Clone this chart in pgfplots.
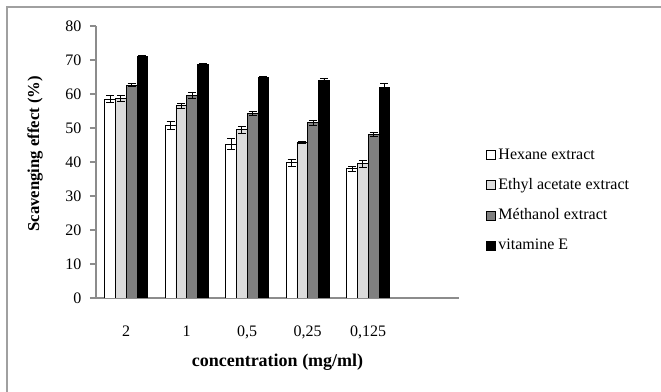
\documentclass[border=0pt]{standalone}
\usepackage{fontspec}
\setmainfont{Liberation Serif}
\usepackage{pgfplots}
\usepackage{pgfplotstable}
\pgfplotsset{compat=1.18}
\definecolor{lgray}{HTML}{DCDCDC}
\definecolor{mgray}{HTML}{808080}
\definecolor{axgray}{HTML}{8C8C8C}
\definecolor{framegray}{HTML}{A0A0A0}

\pgfplotstableread{
x y e
1 58.5 1.0
2 50.7 1.2
3 45.3 1.5
4 39.8 1.0
5 38.0 0.7
}\hexane
\pgfplotstableread{
x y e
1 58.7 1.0
2 56.6 0.7
3 49.5 1.0
4 45.8 0.4
5 39.5 1.0
}\ethyl
\pgfplotstableread{
x y e
1 62.6 0.5
2 59.6 1.0
3 54.3 0.6
4 51.6 0.7
5 48.0 0.6
}\methanol
\pgfplotstableread{
x y e
1 71.0 0.4
2 68.6 0.5
3 64.8 0.4
4 64.0 0.5
5 62.0 1.0
}\vitE

\begin{document}
\begin{tikzpicture}
\path[use as bounding box] (0,0) rectangle (495.75pt,294pt);
\draw[framegray, line width=1.2pt] (5.25pt,0) -- (5.25pt,288.75pt) -- (495.75pt,288.75pt);
\begin{axis}[
  at={(72pt,70.5pt)}, anchor=origin,
  scale only axis,
  width=272.25pt, height=204pt,
  xmin=0.5, xmax=6.5, ymin=0, ymax=80,
  axis lines*=left,
  axis line style={axgray, line width=0.8pt},
  ybar=0pt, bar width=8.1pt,
  xtick={1,2,3,4,5},
  xticklabels={2,1,{0,5},{0,25},{0,125}},
  xtick style={draw=none},
  minor xtick={0.5,1.5,2.5,3.5,4.5,5.5,6.5},
  minor x tick style={axgray, line width=0.8pt},
  minor tick length=4.5pt,
  ytick={0,10,...,80},
  y tick style={axgray, line width=0.8pt},
  major tick length=4.5pt,
  tick align=outside,
  /pgf/number format/assume math mode=true,
  tick label style={font=\fontsize{12}{14}\selectfont},
  xticklabel style={yshift=-13pt},
  yticklabel style={xshift=-3pt},
  xlabel={\textbf{concentration (mg/ml)}},
  ylabel={\textbf{Scavenging effect (\%)}},
  xlabel style={at={(axis description cs:0.5,-0.235)}, anchor=center, font=\fontsize{13.5}{15}\selectfont},
  ylabel style={at={(axis description cs:-0.168,0.53)}, anchor=center, font=\fontsize{12.5}{14}\selectfont},
  legend style={at={(axis description cs:1.074,0.56)}, anchor=north west, draw=none, fill=none,
    font=\fontsize{12}{14}\selectfont, row sep=9pt, inner sep=0pt, legend cell align=left},
  legend image code/.code={\draw[#1, draw=black, line width=0.5pt] (0pt,-3.4pt) rectangle (6.75pt,3.4pt);},
  every axis plot/.append style={draw=black, line width=0.6pt},
  error bars/y dir=both, error bars/y explicit,
  error bars/error bar style={black, line width=0.6pt},
  error bars/error mark options={rotate=90, mark size=3pt, black, line width=0.6pt},
]
\addplot[fill=white] table[x=x, y=y, y error=e] {\hexane};
\addplot[fill=lgray] table[x=x, y=y, y error=e] {\ethyl};
\addplot[fill=mgray] table[x=x, y=y, y error=e] {\methanol};
\addplot[fill=black] table[x=x, y=y, y error=e] {\vitE};
\legend{Hexane extract, Ethyl acetate extract, Méthanol extract, vitamine E}
\end{axis}
\end{tikzpicture}
\end{document}
